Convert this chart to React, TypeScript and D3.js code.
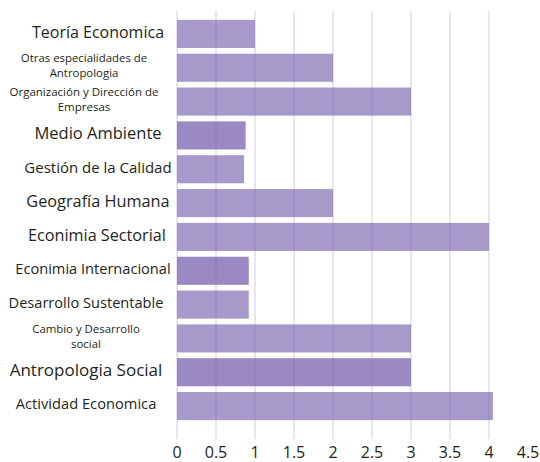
import React, { useEffect, useRef } from 'react';
import * as d3 from 'd3';

// categories, top to bottom
const categories = [
  'Teoría Economica',
  'Otras especialidades de\nAntropologia',
  'Organización y Dirección de\nEmpresas',
  'Medio Ambiente',
  'Gestión de la Calidad',
  'Geografía Humana',
  'Econimia Sectorial',
  'Econimia Internacional',
  'Desarrollo Sustentable',
  'Cambio y Desarrollo\nsocial',
  'Antropologia Social',
  'Actividad Economica',
];

const values = [1, 2, 3, 0.88, 0.86, 2, 4, 0.92, 0.92, 3, 3, 4.05];

const ticks = [0, 0.5, 1, 1.5, 2, 2.5, 3, 3.5, 4, 4.5];

// bars drawn in the darker shade
const darkRows = ['Medio Ambiente', 'Econimia Internacional', 'Antropologia Social'];

// label styling per row (font size, center x)
const labelSizes = [16, 11.4, 11.5, 16.5, 15, 16.3, 16.2, 14.6, 14.6, 11.4, 17, 14.7];
const labelCenters = [98, 84, 84, 98, 98, 98, 97, 93, 86, 86, 86, 86];

export default function App() {
  const svgRef = useRef<SVGSVGElement>(null);

  useEffect(() => {
    if (!svgRef.current) return;
    const svg = d3.select(svgRef.current);
    svg.selectAll('*').remove();

    const font = "'Open Sans', sans-serif";
    const textColor = '#231f20';

    const x = d3.scaleLinear().domain([0, 4.5]).range([177, 528]);
    const y = d3.scaleBand<string>()
      .domain(categories)
      .range([17, 423])
      .paddingInner(0.17)
      .paddingOuter(0.085);

    // Bars
    svg.append('g')
      .selectAll('rect')
      .data(categories)
      .join('rect')
      .attr('x', x(0))
      .attr('y', d => y(d)!)
      .attr('width', (d, i) => x(values[i]) - x(0))
      .attr('height', y.bandwidth())
      .attr('fill', d => darkRows.includes(d) ? '#9a89c2' : '#a799c9');

    // Grid lines (on top of bars)
    svg.append('g')
      .selectAll('line')
      .data(ticks.filter(t => t <= 4))
      .join('line')
      .attr('x1', d => x(d))
      .attr('x2', d => x(d))
      .attr('y1', 11)
      .attr('y2', 439)
      .attr('stroke', '#7b68b5')
      .attr('stroke-opacity', 0.35)
      .attr('stroke-width', 1);

    // Tick labels
    svg.append('g')
      .selectAll('text')
      .data(ticks)
      .join('text')
      .attr('x', d => x(d))
      .attr('y', 458)
      .attr('text-anchor', 'middle')
      .attr('font-family', font)
      .attr('font-size', 16)
      .attr('fill', textColor)
      .text(d => String(d));

    // Category labels
    const labels = svg.append('g')
      .selectAll('text')
      .data(categories)
      .join('text')
      .attr('text-anchor', 'middle')
      .attr('font-family', font)
      .attr('font-size', (d, i) => labelSizes[i])
      .attr('fill', textColor);

    labels.each(function (d, i) {
      const lines = d.split('\n');
      const lh = 15.5;
      const cy = y(d)! + y.bandwidth() / 2 - 2;
      const first = cy - ((lines.length - 1) * lh) / 2;
      d3.select(this)
        .selectAll('tspan')
        .data(lines)
        .join('tspan')
        .attr('x', labelCenters[i])
        .attr('y', (l, j) => first + j * lh)
        .attr('dy', '0.35em')
        .text(l => l);
    });
  }, []);

  return (
    <svg
      ref={svgRef}
      width={540}
      height={462}
      viewBox="0 0 540 462"
      style={{ position: 'absolute', left: 0, top: 0, background: '#fff' }}
    />
  );
}
